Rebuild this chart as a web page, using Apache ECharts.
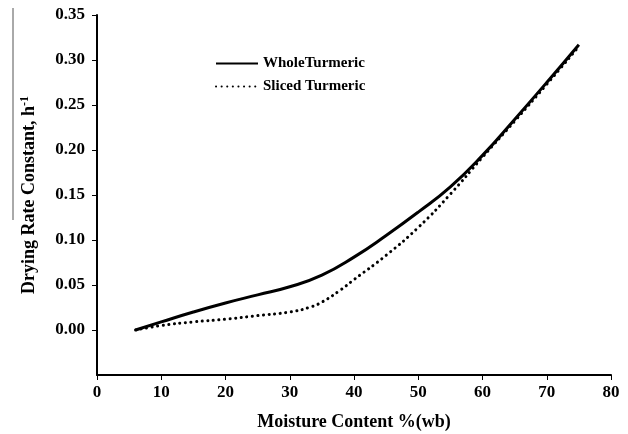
<!DOCTYPE html>
<html lang="en">

<head>
    <meta charset="UTF-8">
    <title>drying rate constant</title>
    <script type="text/javascript" src="https://cdn.jsdelivr.net/npm/echarts@6/dist/echarts.min.js"></script>
</head>

<body style="margin: 0;">
    <div id="main" style="width: 628px; height: 434px;"></div>
    <script>
        // moisture content %(wb) and drying rate constant (h^-1)
        var wholeMoisture = [6, 10, 15, 20, 25, 30, 35, 40, 45, 50, 55, 60, 65, 70, 75];
        var wholeRate = [0.000, 0.009, 0.020, 0.030, 0.039, 0.048, 0.061, 0.081, 0.105, 0.131, 0.159, 0.194, 0.234, 0.275, 0.317];

        var slicedMoisture = [6, 10, 15, 20, 25, 30, 33, 35, 38, 40, 45, 50, 55, 60, 65, 70, 75];
        var slicedRate = [0.000, 0.005, 0.009, 0.012, 0.016, 0.020, 0.025, 0.031, 0.045, 0.056, 0.083, 0.114, 0.151, 0.192, 0.232, 0.273, 0.315];

        var seriesNames = ['WholeTurmeric', 'Sliced Turmeric'];

        function pairs(xs, ys) {
            var out = [];
            for (var i = 0; i < xs.length; i++) {
                out.push([xs[i], ys[i]]);
            }
            return out;
        }

        var font = 'Liberation Serif';
        var myChart = echarts.init(document.getElementById('main'));

        myChart.setOption({
            animation: false,
            grid: { left: 97, right: 17, top: 15, bottom: 59, outerBoundsMode: 'none' },
            legend: {
                orient: 'vertical',
                left: 210,
                top: 51,
                itemWidth: 42,
                itemHeight: 10,
                itemGap: 8,
                itemStyle: { opacity: 0 },
                textStyle: { fontFamily: font, fontWeight: 'bold', fontSize: 15, color: '#000' },
                data: seriesNames
            },
            xAxis: {
                type: 'value',
                min: 0,
                max: 80,
                interval: 10,
                name: 'Moisture Content %(wb)',
                nameLocation: 'middle',
                nameGap: 38,
                nameTextStyle: { fontFamily: font, fontWeight: 'bold', fontSize: 18, color: '#000' },
                axisLine: { onZero: false, lineStyle: { color: '#000', width: 2 } },
                axisTick: { length: 5, lineStyle: { color: '#000' } },
                axisLabel: { margin: 9, fontFamily: font, fontWeight: 'bold', fontSize: 17, color: '#000' },
                splitLine: { show: false }
            },
            yAxis: {
                type: 'value',
                min: -0.05,
                max: 0.35,
                interval: 0.05,
                name: 'Drying Rate Constant, h{sup|-1}',
                nameLocation: 'middle',
                nameRotate: 90,
                nameGap: 57,
                nameTextStyle: {
                    fontFamily: font, fontWeight: 'bold', fontSize: 18, color: '#000',
                    rich: { sup: { fontFamily: font, fontWeight: 'bold', fontSize: 12, color: '#000', verticalAlign: 'top', padding: [0, 0, 9, 0] } }
                },
                axisLine: { onZero: false, lineStyle: { color: '#000', width: 2 } },
                axisTick: { length: 5, lineStyle: { color: '#000' } },
                axisLabel: {
                    margin: 12,
                    showMinLabel: false,
                    fontFamily: font, fontWeight: 'bold', fontSize: 17, color: '#000',
                    formatter: function (v) { return v.toFixed(2); }
                },
                splitLine: { show: false }
            },
            graphic: [{
                type: 'line',
                shape: { x1: 13, y1: 8, x2: 13, y2: 220 },
                style: { stroke: '#555', lineWidth: 1 }
            }],
            series: [
                {
                    name: seriesNames[0],
                    type: 'line',
                    smooth: true,
                    showSymbol: false,
                    symbol: 'none',
                    data: pairs(wholeMoisture, wholeRate),
                    lineStyle: { color: '#000', width: 3 },
                    itemStyle: { color: '#000' }
                },
                {
                    name: seriesNames[1],
                    type: 'line',
                    smooth: true,
                    showSymbol: false,
                    symbol: 'none',
                    data: pairs(slicedMoisture, slicedRate),
                    lineStyle: { color: '#000', width: 3, type: [0.1, 5.5], cap: 'round' },
                    itemStyle: { color: '#000' }
                }
            ]
        });
    </script>
</body>

</html>
